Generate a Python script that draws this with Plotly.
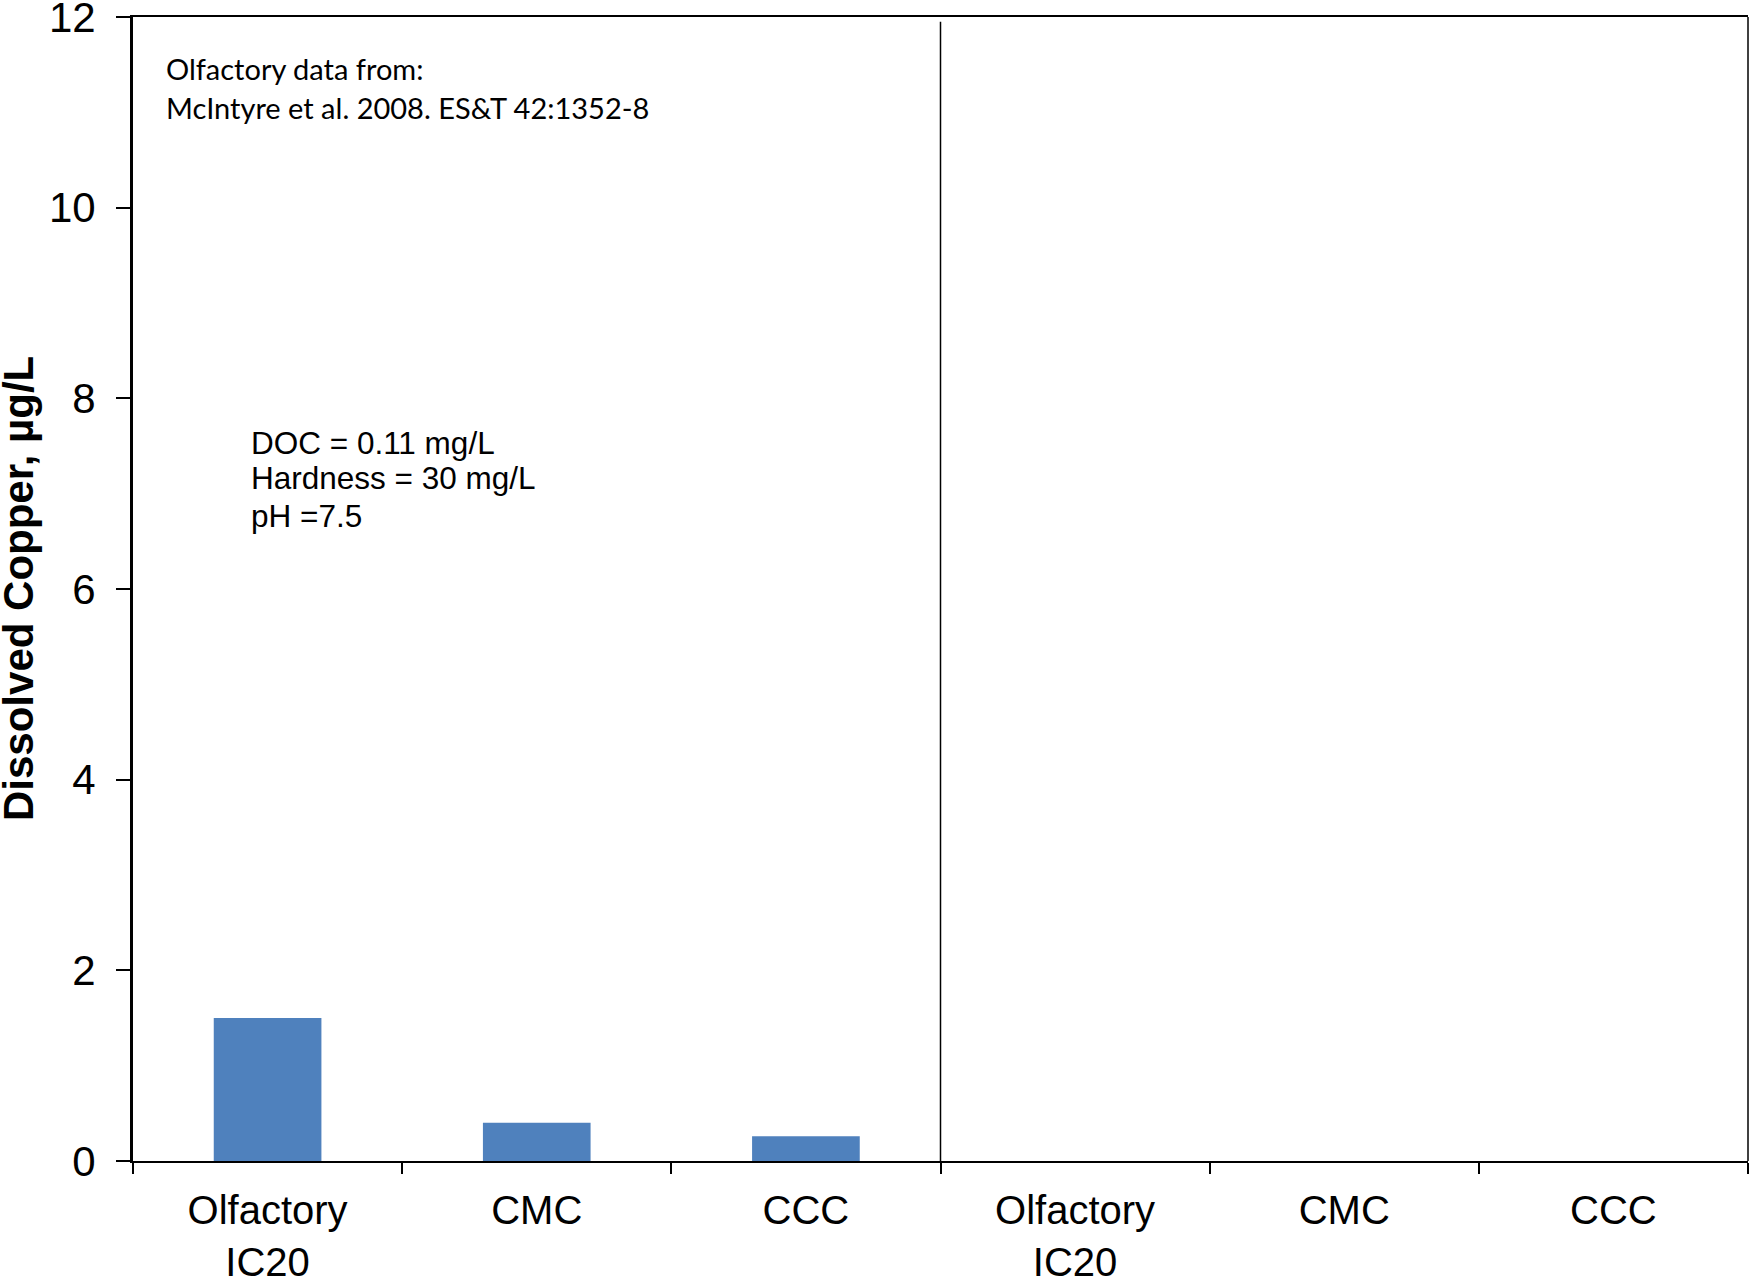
import plotly.graph_objects as go

# ---- data ----
categories = ["Olfactory<br>IC20", "CMC", "CCC"]
panel_ids = ["left", "right"]
left_values = [1.5, 0.4, 0.26]
right_values = [None, None, None]
y_ticks = [0, 2, 4, 6, 8, 10, 12]
y_title = "Dissolved Copper, µg/L"
source_lines = ["Olfactory data from:", "McIntyre et al. 2008. ES&T 42:1352-8"]
cond_lines = ["DOC = 0.11 mg/L", "Hardness = 30 mg/L", "pH =7.5"]

# unique category ids for the two panels
x_ids = [f"{p}|{c}" for p in panel_ids for c in categories]
tick_text = [c for p in panel_ids for c in categories]
values = left_values + right_values

BAR = "#4F81BD"
FONT = "Liberation Sans, Arial, sans-serif"

fig = go.Figure()
fig.add_trace(go.Bar(
    x=x_ids, y=values, marker=dict(color=BAR, line=dict(width=0)),
    width=0.4, showlegend=False,
))

fig.update_layout(
    width=1749, height=1282,
    margin=dict(l=133, r=1, t=17, b=121, autoexpand=False),
    paper_bgcolor="white", plot_bgcolor="white",
    font=dict(family=FONT, color="black"),
    xaxis=dict(
        type="category", categoryorder="array", categoryarray=x_ids,
        tickmode="array", tickvals=x_ids, ticktext=tick_text,
        tickson="boundaries", ticks="outside", ticklen=11, tickwidth=2,
        tickcolor="black", showline=True, linewidth=2, linecolor="black",
        mirror=True, showgrid=False, zeroline=False, automargin=False,
        tickfont=dict(size=40, family=FONT), ticklabelstandoff=13,
        range=[-0.5, 5.5],
    ),
    yaxis=dict(
        range=[0, 12], tickmode="array", tickvals=y_ticks,
        ticks="outside", ticklen=14, tickwidth=2, tickcolor="black",
        showline=True, linewidth=3, linecolor="black", showgrid=False,
        zeroline=False, tickfont=dict(size=42, family=FONT), automargin=False,
        ticklabelstandoff=12, ticklabeloverflow="allow",
    ),
    shapes=[
        # divider between the two panels
        dict(type="line", xref="x", yref="y", x0=2.5, x1=2.5, y0=0, y1=11.95,
             line=dict(color="black", width=1.5)),
        # right border
        dict(type="line", xref="paper", yref="paper", x0=1, x1=1, y0=0, y1=1,
             line=dict(color="black", width=1.5)),
    ],
)

# y-axis title
fig.add_annotation(text=f"<b>{y_title}</b>", xref="paper", yref="paper",
                   x=-0.0712, y=0.5, textangle=-90, xanchor="center", yanchor="middle",
                   showarrow=False, font=dict(family=FONT, size=42, color="black"))

# text annotations
src_y = [0.955, 0.921]
for t, yy in zip(source_lines, src_y):
    fig.add_annotation(text=t, xref="paper", yref="paper", x=0.019, y=yy,
                       xanchor="left", yanchor="middle", showarrow=False,
                       font=dict(family="Lato, Open Sans, sans-serif", size=29, color="black"))
cond_y = [0.628, 0.5967, 0.5634]
for t, yy in zip(cond_lines, cond_y):
    fig.add_annotation(text=t, xref="paper", yref="paper", x=0.0717, y=yy,
                       xanchor="left", yanchor="middle", showarrow=False,
                       font=dict(family=FONT, size=31.5, color="black"))

fig.write_html("out.html")
